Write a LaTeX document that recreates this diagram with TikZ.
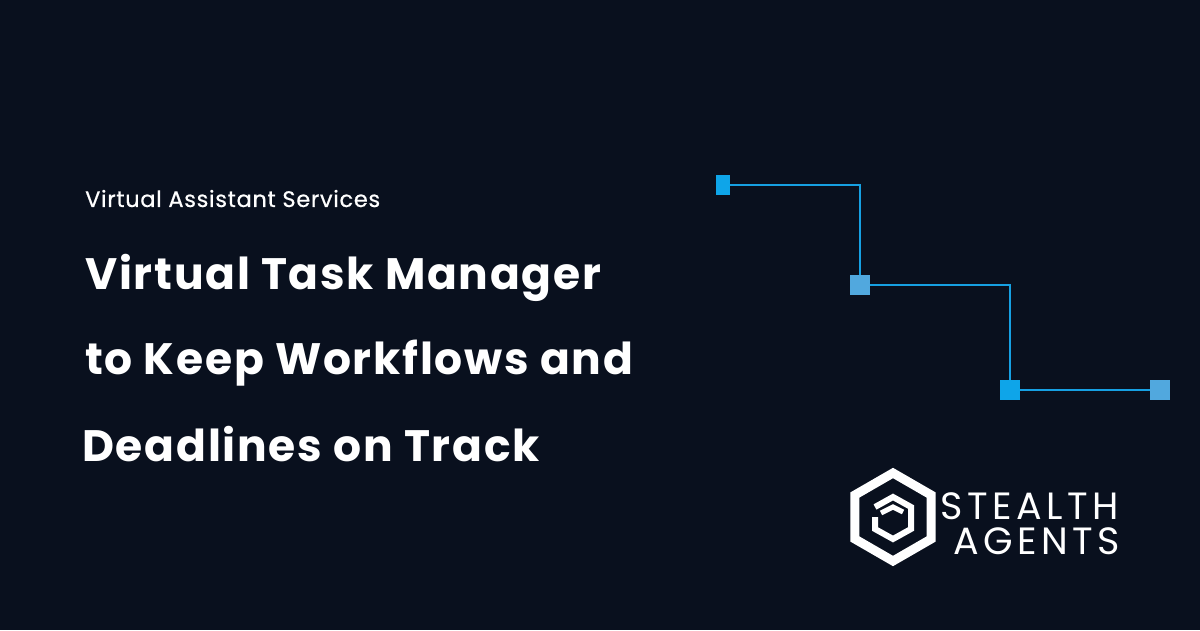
\documentclass[tikz,border=0pt]{standalone}
\usepackage{fontspec}
\usetikzlibrary{calc}
\setmainfont{Poppins}
\newfontfamily\logofont{Poppins}[LetterSpace=12]
\newfontfamily\titlefont{Poppins}[LetterSpace=4]
\newfontfamily\subfont{Poppins}[LetterSpace=3,FakeBold=0.6]
\definecolor{bg}{HTML}{09101E}
\definecolor{cyan1}{HTML}{0EA5E9}
\definecolor{cyan2}{HTML}{51A8DE}
\definecolor{wire}{HTML}{16A0E2}
\begin{document}
\begin{tikzpicture}[x=1pt,y=1pt,
  sq/.style={fill=#1,draw=none,minimum size=20pt,inner sep=0pt,rectangle},
  wireline/.style={draw=wire,line width=2.8pt},
  txt/.style={text=white,anchor=base west,inner sep=0pt},
  title/.style={txt,font=\titlefont\fontsize{44}{48}\selectfont\bfseries},
  logo/.style={txt,font=\logofont\fontsize{38}{38}\selectfont}]
\fill[bg] (0,0) rectangle (1200,630);
\useasboundingbox (0,0) rectangle (1200,630);
% text
\node[txt,font=\subfont\fontsize{22.5}{24}\selectfont] (sub) at (85,423) {Virtual Assistant Services};
\node[title] (t1) at (85,340) {Virtual Task Manager};
\node[title] (t2) at (85,255) {to Keep Workflows and};
\node[title] (t3) at (82,168) {Deadlines on Track};
% connectors
\node[sq=cyan1,minimum width=14pt] (a) at (723,445) {};
\node[sq=cyan2] (b) at (860,345) {};
\node[sq=cyan1] (c) at (1010,240) {};
\node[sq=cyan2] (d) at (1160,240) {};
\draw[wireline] (a.east) -| (b.north);
\draw[wireline] (b.east) -| (c.north);
\draw[wireline] (c.east) -- (d.west);
% logo
\coordinate (h) at (893,113);
\draw[white,line width=9pt,line join=miter]
  ($(h)+(90:44)$) -- ($(h)+(150:44)$) -- ($(h)+(210:44)$) -- ($(h)+(270:44)$) -- ($(h)+(330:44)$) -- ($(h)+(30:44)$) -- cycle;
\draw[white,line width=6pt]
  ($(h)+(-18,10)$) -- ($(h)+(0,20)$) -- ($(h)+(18,10)$) -- ($(h)+(18,-12)$) -- ($(h)+(0,-22)$) -- ($(h)+(-18,-12)$) -- ($(h)+(-18,0)$);
\draw[white,line width=5pt] ($(h)+(-12,4)$) -- ($(h)+(0,10)$) -- ($(h)+(10,5)$);
\node[logo] (s1) at (940,111) {STEALTH};
\node[logo] (s2) at (953,76) {AGENTS};
\end{tikzpicture}
\end{document}
